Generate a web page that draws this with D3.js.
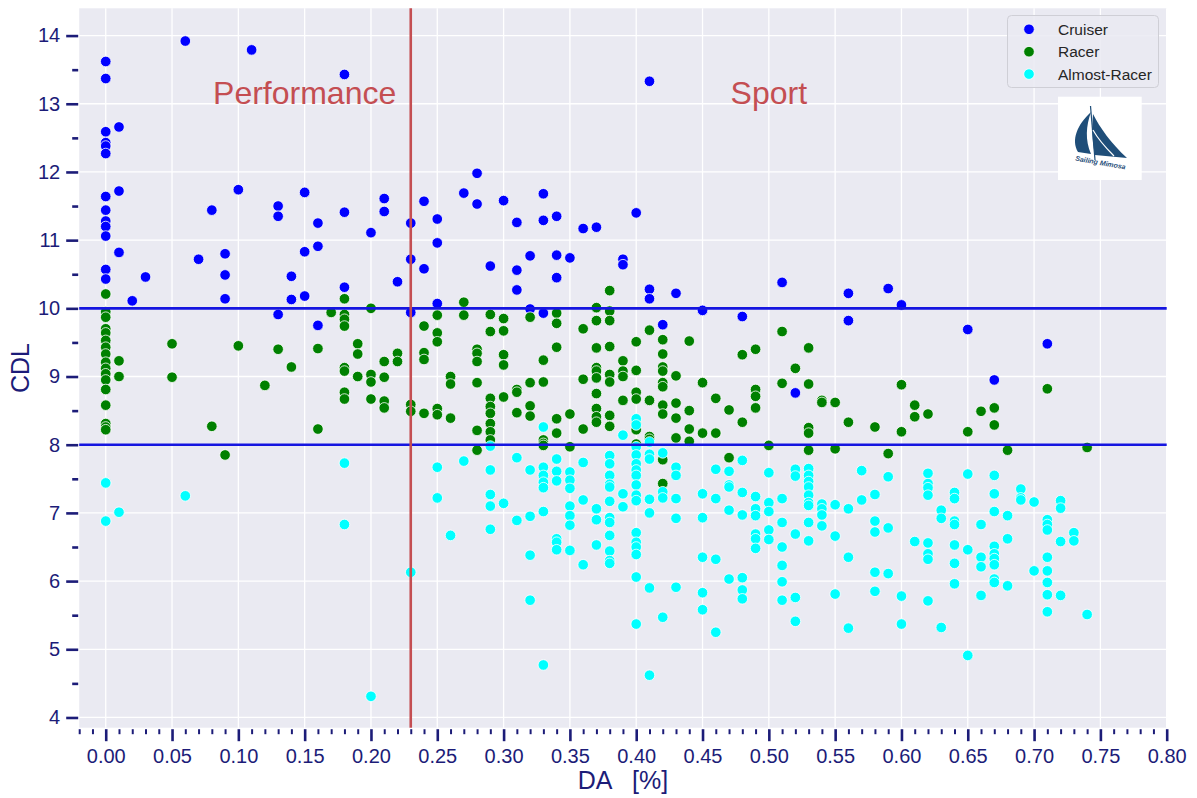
<!DOCTYPE html>
<html>
<head>
<meta charset="utf-8">
<script src="https://cdn.jsdelivr.net/npm/d3@7.9.0/dist/d3.min.js"></script>
<style>
  html, body { margin: 0; padding: 0; background: #fff; }
  svg { display: block; font-family: "Liberation Sans", Arial, sans-serif; }
</style>
</head>
<body>
<svg id="chart" width="1197" height="798"></svg>
<script>
// values, grouped by DA column: [DA, [CDL, ...]]
const cruiser = [
  [0.00, [13.62, 13.37, 12.59, 12.43, 12.38, 12.27, 11.64, 11.44, 11.28, 11.20, 11.06, 10.57, 10.43]],
  [0.01, [12.66, 11.72, 10.82]], [0.02, [10.11]], [0.03, [10.46]], [0.06, [13.92]],
  [0.07, [10.72]], [0.08, [11.44]], [0.09, [10.80, 10.49, 10.14]], [0.10, [11.74]],
  [0.11, [13.79]], [0.13, [11.50, 11.35, 9.91]], [0.14, [10.47, 10.13]],
  [0.15, [11.70, 10.83, 10.18]], [0.16, [11.25, 10.91, 9.75]], [0.18, [13.43, 11.41, 10.31]],
  [0.20, [11.11]], [0.21, [11.61, 11.42]], [0.22, [10.39]], [0.23, [11.25, 10.72, 9.94]],
  [0.24, [11.57, 10.58]], [0.25, [11.31, 10.96, 10.07]], [0.27, [11.69]], [0.28, [11.98, 11.53]],
  [0.29, [10.62]], [0.30, [11.58]], [0.31, [11.26, 10.56, 10.27]], [0.32, [10.77, 9.99]],
  [0.33, [11.68, 11.29, 9.93]], [0.34, [11.35, 10.78, 10.45]], [0.35, [10.74]], [0.36, [11.17]],
  [0.37, [11.19]], [0.39, [10.72, 10.64]], [0.40, [11.40]], [0.41, [13.33, 10.28, 10.14]],
  [0.42, [9.76]], [0.43, [10.22]], [0.45, [9.97]], [0.48, [9.88]], [0.51, [10.38]], [0.52, [8.76]],
  [0.56, [10.22, 9.82]], [0.59, [10.29]], [0.60, [10.05]], [0.65, [9.69]], [0.67, [8.95]], [0.71, [9.48]]
];

const racer = [
  [0.00, [10.21, 9.95, 9.87, 9.70, 9.64, 9.53, 9.43, 9.33, 9.21, 9.12, 9.04, 8.95, 8.81, 8.58, 8.31, 8.26, 8.22]],
  [0.01, [9.23, 9.00]], [0.05, [9.48, 8.99]], [0.08, [8.27]], [0.09, [7.85]], [0.10, [9.45]],
  [0.12, [8.87]], [0.13, [9.40]], [0.14, [9.14]], [0.16, [9.41, 8.23]], [0.17, [9.94]],
  [0.18, [10.14, 9.91, 9.84, 9.74, 9.13, 9.08, 8.77, 8.67]], [0.19, [9.48, 9.33, 9.00]],
  [0.20, [10.00, 9.03, 8.92, 8.67]], [0.21, [9.22, 8.99, 8.64, 8.54]], [0.22, [9.34, 9.22]],
  [0.23, [8.59, 8.49]], [0.24, [9.74, 9.35, 9.25, 8.46]], [0.25, [9.90, 9.64, 9.51, 8.53, 8.44]],
  [0.26, [9.00, 8.89, 8.39]], [0.27, [10.09, 9.90]], [0.28, [9.40, 9.34, 9.22, 8.91, 8.21, 7.92]],
  [0.29, [9.91, 9.66, 8.68, 8.56, 8.46, 8.31, 8.19, 8.07]], [0.30, [9.85, 9.67, 9.32, 9.17, 8.70]],
  [0.31, [8.81, 8.77, 8.47]], [0.32, [9.87, 8.91, 8.57, 8.42]], [0.33, [9.24, 8.92, 8.07, 8.02, 7.99]],
  [0.34, [9.93, 9.78, 9.43, 8.38, 8.17]], [0.35, [8.45, 7.97]], [0.36, [9.70, 8.96, 8.23]],
  [0.37, [10.01, 9.82, 9.42, 9.13, 9.08, 8.98, 8.75, 8.53, 8.41, 8.33]],
  [0.38, [10.26, 9.96, 9.82, 9.44, 9.03, 8.92, 8.43, 8.27]], [0.39, [9.23, 9.08, 9.00, 8.65]],
  [0.40, [9.51, 9.09, 8.77, 8.67, 8.31, 8.22, 8.01]], [0.41, [9.68, 8.65, 8.12, 8.08]],
  [0.42, [9.54, 9.33, 9.14, 9.08, 8.91, 8.85, 8.58, 8.45, 7.78, 7.43]], [0.43, [9.01, 8.61, 8.39, 8.10]],
  [0.44, [9.52, 8.50, 8.23, 8.05]], [0.45, [8.91, 8.17]], [0.46, [8.68, 8.17]], [0.47, [8.51, 7.81]],
  [0.48, [9.32, 8.33]], [0.49, [9.40, 8.81, 8.71, 8.54]], [0.50, [7.99]], [0.51, [9.66, 8.90]],
  [0.52, [9.12]], [0.53, [9.42, 8.89, 8.25, 8.17, 7.92]], [0.54, [8.65, 8.62]], [0.55, [8.62, 7.94]],
  [0.56, [8.33]], [0.58, [8.26]], [0.59, [7.87]], [0.60, [8.88, 8.19]], [0.61, [8.58, 8.41]],
  [0.62, [8.45]], [0.65, [8.19]], [0.66, [8.49]], [0.67, [8.54, 8.29]], [0.68, [7.92]],
  [0.71, [8.82]], [0.74, [7.96]]
];

const almostRacer = [
  [0.00, [7.44, 6.88]], [0.01, [7.01]], [0.06, [7.25]], [0.18, [7.73, 6.83]], [0.20, [4.31]],
  [0.23, [6.13]], [0.25, [7.67, 7.22]], [0.26, [6.67]], [0.27, [7.76]],
  [0.29, [7.98, 7.63, 7.27, 7.10, 6.76]], [0.30, [7.14]], [0.31, [7.81, 6.89]],
  [0.32, [7.63, 6.95, 6.38, 5.72]], [0.33, [8.26, 7.67, 7.55, 7.45, 7.37, 7.02, 4.77]],
  [0.34, [7.79, 7.61, 7.47, 6.62, 6.57, 6.46]], [0.35, [7.60, 7.48, 7.36, 7.10, 6.96, 6.82, 6.45]],
  [0.36, [7.74, 7.19, 6.24]], [0.37, [7.06, 6.90, 6.53]],
  [0.38, [7.84, 7.72, 7.55, 7.42, 7.38, 7.17, 6.93, 6.86, 6.67, 6.44, 6.30, 6.26]],
  [0.39, [8.14, 7.28, 7.09]],
  [0.40, [8.38, 8.29, 7.97, 7.85, 7.72, 7.63, 7.55, 7.41, 7.26, 7.18, 6.71, 6.57, 6.50, 6.39, 6.06, 5.37]],
  [0.41, [8.04, 7.86, 7.79, 7.20, 7.00, 5.90, 4.62]], [0.42, [7.88, 7.31, 7.22, 5.47]],
  [0.43, [7.67, 7.55, 7.21, 6.92, 5.91]], [0.45, [7.28, 6.93, 6.35, 5.83, 5.58]],
  [0.46, [7.64, 7.21, 6.32, 5.25]], [0.47, [7.61, 7.41, 7.38, 7.04, 6.03]],
  [0.48, [7.77, 7.30, 6.97, 6.05, 5.87, 5.74]], [0.49, [7.24, 7.06, 6.96, 6.69, 6.62, 6.48]],
  [0.50, [7.59, 7.15, 7.02, 6.75, 6.61]], [0.51, [7.21, 6.86, 6.50, 6.23, 5.99, 5.72]],
  [0.52, [7.64, 7.54, 6.69, 5.76, 5.41]], [0.53, [7.65, 7.55, 7.46, 7.38, 7.26, 7.15, 7.11, 6.86, 6.59]],
  [0.54, [7.13, 7.06, 6.97, 6.81]], [0.55, [7.12, 6.66, 5.81]], [0.56, [7.06, 6.35, 5.31]],
  [0.57, [7.62, 7.19]], [0.58, [7.27, 6.88, 6.72, 6.13, 5.85]], [0.59, [7.53, 6.78, 6.11]],
  [0.60, [5.78, 5.37]], [0.61, [6.58]], [0.62, [7.58, 7.43, 7.37, 7.26, 6.56, 6.40, 6.32, 5.71]],
  [0.63, [7.04, 6.92, 5.32]], [0.64, [7.30, 7.21, 6.88, 6.83, 6.53, 6.26, 5.96]],
  [0.65, [7.57, 6.46, 4.91]], [0.66, [6.83, 6.35, 6.21, 5.79]],
  [0.67, [7.55, 7.28, 7.02, 6.51, 6.40, 6.33, 6.24, 6.03, 5.98]], [0.68, [6.96, 6.62, 5.93]],
  [0.69, [7.35, 7.22, 7.19]], [0.70, [7.16, 6.15]], [0.71, [6.90, 6.83, 6.75, 6.35, 6.15, 5.98, 5.80, 5.55]],
  [0.72, [7.18, 7.07, 6.58, 5.79]], [0.73, [6.71, 6.59]], [0.74, [5.51]]
];

const classNames = ["Cruiser", "Racer", "Almost-Racer"];
const classColors = ["#0000ff", "#008000", "#00ffff"];
const xTicks = d3.range(0, 0.801, 0.05);
const yTicks = d3.range(4, 14.01, 1);
const limitLines = [10, 8];   // CDL bands
const splitDA = 0.23;         // Performance | Sport
const regionLabels = [{ text: "Performance", x: 0.15 }, { text: "Sport", x: 0.50 }];

const svg = d3.select("#chart");
const pLeft = 79.2, pRight = 1166.7, pTop = 8.3, pBottom = 727.7;
const ink = "#1c1c78";

const x = d3.scaleLinear().domain([-0.02, 0.80]).range([pLeft, pRight]);
const y = d3.scaleLinear().domain([3.85, 14.4]).range([pBottom, pTop]);

svg.append("rect").attr("x", pLeft).attr("y", pTop)
  .attr("width", pRight - pLeft).attr("height", pBottom - pTop).attr("fill", "#eaeaf2");

// grid
svg.append("g").selectAll("line").data(xTicks).join("line")
  .attr("x1", d => x(d)).attr("x2", d => x(d)).attr("y1", pTop).attr("y2", pBottom)
  .attr("stroke", "#fff").attr("stroke-width", 1.3);
svg.append("g").selectAll("line").data(yTicks).join("line")
  .attr("x1", pLeft).attr("x2", pRight).attr("y1", d => y(d)).attr("y2", d => y(d))
  .attr("stroke", "#fff").attr("stroke-width", 1.3);

// axes
const minorX = d3.range(-0.02, 0.8001, 0.01).filter(v => Math.abs(v / 0.05 - Math.round(v / 0.05)) > 0.01);
const minorY = d3.range(4.5, 14, 1);

const xAxis = svg.append("g").attr("transform", `translate(0,${pBottom + 1.5})`);
xAxis.call(d3.axisBottom(x).tickValues(minorX).tickSize(5).tickFormat(""));
xAxis.select(".domain").remove();
xAxis.selectAll("line").attr("stroke", ink).attr("stroke-width", 2);
const xAxisMajor = svg.append("g").attr("transform", `translate(0,${pBottom + 1.5})`)
  .call(d3.axisBottom(x).tickValues(xTicks).tickSize(12).tickPadding(8).tickFormat(d3.format(".2f")));
xAxisMajor.select(".domain").remove();
xAxisMajor.selectAll("line").attr("stroke", ink).attr("stroke-width", 2.6);
xAxisMajor.selectAll("text").attr("fill", ink).attr("font-size", 20)
  .attr("font-family", "Liberation Sans, Arial, sans-serif");

const yAxis = svg.append("g").attr("transform", `translate(${pLeft - 1},0)`);
yAxis.call(d3.axisLeft(y).tickValues(minorY).tickSize(6).tickFormat(""));
yAxis.select(".domain").remove();
yAxis.selectAll("line").attr("stroke", ink).attr("stroke-width", 2.6);
const yAxisMajor = svg.append("g").attr("transform", `translate(${pLeft - 1},0)`)
  .call(d3.axisLeft(y).tickValues(yTicks).tickSize(12).tickPadding(6).tickFormat(d3.format("d")));
yAxisMajor.select(".domain").remove();
yAxisMajor.selectAll("line").attr("stroke", ink).attr("stroke-width", 2.6);
yAxisMajor.selectAll("text").attr("fill", ink).attr("font-size", 20)
  .attr("font-family", "Liberation Sans, Arial, sans-serif");

svg.append("text").attr("x", (pLeft + pRight) / 2).attr("y", 789).attr("text-anchor", "middle")
  .attr("fill", ink).attr("font-size", 25).style("white-space", "pre").text("DA   [%]");
svg.append("text").attr("transform", `translate(29,${(pTop + pBottom) / 2}) rotate(-90)`)
  .attr("text-anchor", "middle").attr("fill", ink).attr("font-size", 25).text("CDL");

// points
const series = [cruiser, racer, almostRacer];
series.forEach((cols, i) => {
  const pts = cols.flatMap(([da, vals]) => vals.map(v => [da, v]));
  svg.append("g").selectAll("circle").data(pts).join("circle")
    .attr("cx", d => x(d[0])).attr("cy", d => y(d[1])).attr("r", 5.3)
    .attr("fill", classColors[i]).attr("stroke", "#fff").attr("stroke-width", 0.8);
});

// reference lines
svg.append("g").selectAll("line").data(limitLines).join("line")
  .attr("x1", pLeft).attr("x2", pRight).attr("y1", d => y(d)).attr("y2", d => y(d))
  .attr("stroke", "#1515e0").attr("stroke-width", 2.6);
svg.append("line").attr("x1", x(splitDA)).attr("x2", x(splitDA)).attr("y1", pTop).attr("y2", pBottom)
  .attr("stroke", "#c44e52").attr("stroke-width", 2.6);

svg.append("g").selectAll("text").data(regionLabels).join("text")
  .attr("x", d => x(d.x)).attr("y", 104).attr("text-anchor", "middle")
  .attr("fill", "#c44e52").attr("font-size", 32).text(d => d.text);

// legend
const lg = svg.append("g");
lg.append("rect").attr("x", 1007.5).attr("y", 15.5).attr("width", 151).attr("height", 72)
  .attr("rx", 4).attr("fill", "#eaeaf2").attr("fill-opacity", 0.85)
  .attr("stroke", "#cfcfd6").attr("stroke-width", 1);
classNames.forEach((n, i) => {
  const cy = 29.3 + i * 22.4;
  lg.append("circle").attr("cx", 1029).attr("cy", cy).attr("r", 5.3)
    .attr("fill", classColors[i]).attr("stroke", "#fff").attr("stroke-width", 0.8);
  lg.append("text").attr("x", 1058).attr("y", cy + 5.5).attr("font-size", 15.5)
    .attr("fill", "#262626").text(n);
});

// logo
const logo = svg.append("g");
logo.append("rect").attr("x", 1058).attr("y", 96.7).attr("width", 83.7).attr("height", 83.3).attr("fill", "#fff");
logo.append("line").attr("x1", 1090.5).attr("y1", 106).attr("x2", 1095).attr("y2", 160)
  .attr("stroke", "#1f4e79").attr("stroke-width", 1.2);
logo.append("path").attr("d", "M1091,112 C1077,125 1071,140 1078,152 L1091,154 C1085,140 1086,126 1091,112 Z")
  .attr("fill", "#1f4e79");
logo.append("path").attr("d", "M1093,114 C1100,128 1111,143 1127,158 L1095,155 C1092,141 1092,127 1093,114 Z")
  .attr("fill", "#1f4e79");
logo.append("path").attr("d", "M1093,130 C1098,139 1105,147 1114,156").attr("fill", "none")
  .attr("stroke", "#fff").attr("stroke-width", 1.2);
logo.append("text").attr("transform", "translate(1100,165) rotate(10)").attr("text-anchor", "middle")
  .attr("font-size", 7).attr("font-style", "italic").attr("font-weight", "bold")
  .attr("fill", "#1f4e79").text("Sailing Mimosa");
</script>
</body>
</html>
